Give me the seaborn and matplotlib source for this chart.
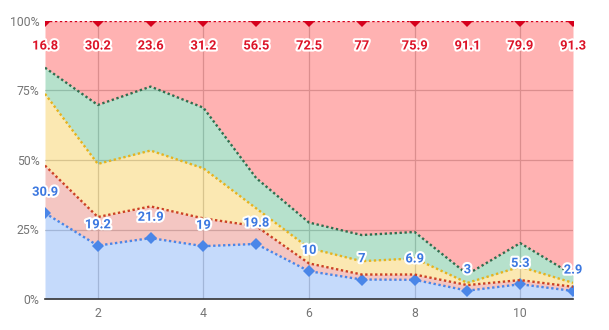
import numpy as np
import pandas as pd
import matplotlib
matplotlib.use("Agg")
import matplotlib.pyplot as plt
import matplotlib.patheffects as pe
import seaborn as sns

# Share of each group per period (percent, stacked bottom to top)
periods = list(range(1, 12))
group_a = [30.9, 19.2, 21.9, 19, 19.8, 10, 7, 6.9, 3, 5.3, 2.9]
group_b = [17.1, 10.3, 11.4, 10.0, 6.4, 2.8, 1.8, 1.9, 2.0, 1.5, 1.5]
group_c = [25.8, 19.1, 20.1, 18.0, 6.4, 5.5, 4.8, 5.8, 0.8, 4.8, 1.4]
group_d = [9.4, 21.2, 23.0, 21.8, 10.9, 9.2, 9.4, 9.5, 3.1, 8.5, 2.9]
group_e = [16.8, 30.2, 23.6, 31.2, 56.5, 72.5, 77, 75.9, 91.1, 79.9, 91.3]
x_ticks = [2, 4, 6, 8, 10]
y_ticks = [0, 25, 50, 75, 100]
y_tick_labels = ["0%", "25%", "50%", "75%", "100%"]

groups = [group_a, group_b, group_c, group_d, group_e]
base_colors = ["#4285f4", "#db4437", "#f4b400", "#0f9d58", "#ff0000"]
line_colors = ["#4a86e8", "#cc4125", "#e6b31e", "#2f6f4f", "#d5001c"]

df = pd.DataFrame({f"g{i}": g for i, g in enumerate(groups)}, index=periods)
pct = df.div(df.sum(axis=1), axis=0) * 100
cum = pct.cumsum(axis=1)

sns.set_theme(style="white")
plt.rcParams["font.family"] = ["Roboto", "DejaVu Sans"]

fig = plt.figure(figsize=(6.09, 3.30), dpi=100)
ax = fig.add_axes([45 / 609, 31 / 330, 528 / 609, 278 / 330])

# grid under the translucent areas
for xv in x_ticks:
    ax.axvline(xv, color="#cccccc", lw=0.9, zorder=0)
for yv in y_ticks[1:-1]:
    ax.axhline(yv, color="#cccccc", lw=0.9, zorder=0)

lower = np.zeros(len(periods))
for i, col in enumerate(cum.columns):
    upper = cum[col].values
    ax.fill_between(periods, lower, upper, color=base_colors[i], alpha=0.3,
                    lw=0, zorder=1)
    lower = upper

# dotted boundary lines; first and last series carry markers
for i, col in enumerate(cum.columns):
    marked = i in (0, 4)
    sns.lineplot(x=periods, y=cum[col].values, ax=ax, color=line_colors[i],
                 lw=1.7, linestyle=(0, (1, 1.1)), zorder=3,
                 marker="D" if marked else None, markersize=6.5,
                 markeredgewidth=0, legend=False)

halo = [pe.withStroke(linewidth=3, foreground="white")]
for xv, v, top in zip(periods, group_a, cum[cum.columns[0]].values):
    ax.annotate(f"{v:g}", (xv, top), xytext=(0, 15), textcoords="offset points",
                ha="center", va="center", fontsize=9.3, fontweight="bold",
                color="#3c78e0", path_effects=halo, zorder=5,
                annotation_clip=False)
for xv, v in zip(periods, group_e):
    ax.annotate(f"{v:g}", (xv, 100), xytext=(0, -18), textcoords="offset points",
                ha="center", va="center", fontsize=9.3, fontweight="bold",
                color="#dc1428", path_effects=halo, zorder=5,
                annotation_clip=False)

ax.set_xlim(1, 11)
ax.set_ylim(0, 100)
ax.set_xticks(x_ticks)
ax.set_xticklabels([str(t) for t in x_ticks])
ax.set_yticks(y_ticks)
ax.set_yticklabels(y_tick_labels)
ax.tick_params(axis="both", length=0, labelsize=8.8, labelcolor="#757575")
ax.tick_params(axis="x", pad=6)
ax.tick_params(axis="y", pad=4)
for s in ["top", "right", "left"]:
    ax.spines[s].set_visible(False)
ax.spines["bottom"].set_color("#333333")
ax.spines["bottom"].set_linewidth(1.2)
ax.spines["bottom"].set_zorder(4)
ax.set_xlabel("")
ax.set_ylabel("")

fig.savefig("out.png", dpi=100)
